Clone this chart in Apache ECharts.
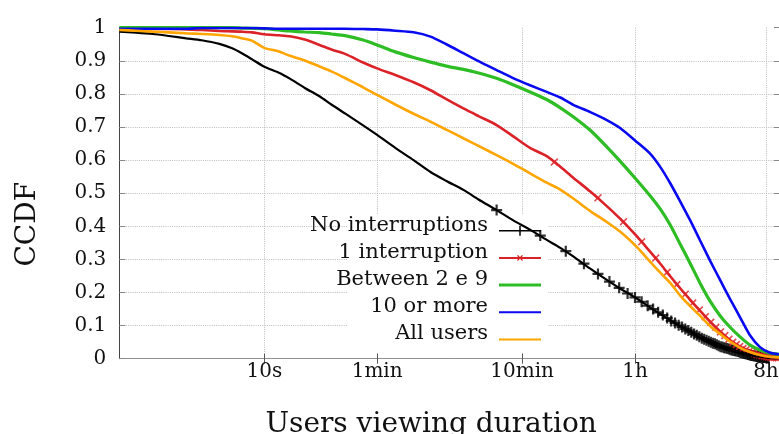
<!DOCTYPE html>
<html>
<head>
<meta charset="utf-8">
<script src="https://cdn.jsdelivr.net/npm/echarts@6/dist/echarts.min.js"></script>
<style>html,body{margin:0;padding:0;background:#fff}#c{width:779px;height:434px}</style>
</head>
<body>
<div id="c"></div>
<script>
// ---------- data (seconds on x, CCDF on y) ----------
const seriesNames = ['No interruptions', '1 interruption', 'Between 2 e 9', '10 or more', 'All users'];
const xTickValues = [10, 60, 600, 3600, 28800];
const xTickLabels = ['10s', '1min', '10min', '1h', '8h'];
const timeGrid = [1, 1.3, 1.7, 2.2, 2.9, 3.7, 4.9, 6, 7, 8.2, 10, 12.6, 15, 19, 24, 29, 36, 48, 60, 80, 107, 140, 180, 236, 300, 400, 524, 680, 886, 1100, 1350, 1770, 2300, 2840, 3700, 4560, 5400, 6300, 7400, 8600, 10100, 11900, 13900, 16300, 19100, 22400, 26200, 30700, 36000];
const noInterruptions = [0.988, 0.985, 0.981, 0.975, 0.968, 0.962, 0.951, 0.938, 0.923, 0.905, 0.882, 0.864, 0.846, 0.818, 0.793, 0.768, 0.741, 0.705, 0.676, 0.637, 0.600, 0.564, 0.537, 0.510, 0.481, 0.449, 0.417, 0.390, 0.359, 0.335, 0.309, 0.272, 0.238, 0.212, 0.182, 0.155, 0.135, 0.116, 0.098, 0.083, 0.064, 0.050, 0.036, 0.027, 0.019, 0.011, 0.006, 0.002, 0.001];
const oneInterruption = [0.997, 0.997, 0.996, 0.996, 0.995, 0.993, 0.990, 0.989, 0.988, 0.986, 0.980, 0.977, 0.974, 0.964, 0.948, 0.934, 0.921, 0.895, 0.877, 0.857, 0.835, 0.811, 0.784, 0.756, 0.733, 0.706, 0.671, 0.637, 0.612, 0.580, 0.547, 0.505, 0.461, 0.423, 0.370, 0.324, 0.286, 0.249, 0.212, 0.179, 0.145, 0.111, 0.082, 0.056, 0.036, 0.021, 0.011, 0.005, 0.003];
const betweenTwoAndNine = [1.0, 1.0, 1.0, 1.0, 1.0, 1.0, 1.0, 1.0, 0.999, 0.998, 0.997, 0.993, 0.990, 0.987, 0.985, 0.981, 0.976, 0.963, 0.948, 0.927, 0.910, 0.896, 0.884, 0.874, 0.863, 0.847, 0.827, 0.806, 0.783, 0.758, 0.731, 0.690, 0.640, 0.597, 0.540, 0.493, 0.451, 0.404, 0.345, 0.290, 0.229, 0.173, 0.130, 0.095, 0.066, 0.041, 0.026, 0.017, 0.013];
const tenOrMore = [0.997, 0.997, 0.997, 0.997, 0.997, 0.999, 0.999, 0.999, 0.999, 0.999, 0.998, 0.997, 0.997, 0.997, 0.997, 0.997, 0.997, 0.996, 0.995, 0.991, 0.986, 0.973, 0.950, 0.923, 0.899, 0.872, 0.847, 0.826, 0.806, 0.789, 0.767, 0.745, 0.721, 0.697, 0.655, 0.620, 0.578, 0.530, 0.474, 0.420, 0.358, 0.295, 0.238, 0.180, 0.125, 0.070, 0.035, 0.018, 0.013];
const allUsers = [0.993, 0.991, 0.988, 0.986, 0.983, 0.981, 0.978, 0.974, 0.968, 0.961, 0.939, 0.928, 0.915, 0.901, 0.883, 0.868, 0.848, 0.820, 0.797, 0.768, 0.740, 0.716, 0.692, 0.666, 0.643, 0.615, 0.588, 0.560, 0.532, 0.511, 0.484, 0.446, 0.413, 0.384, 0.338, 0.294, 0.259, 0.229, 0.190, 0.160, 0.130, 0.098, 0.075, 0.052, 0.033, 0.020, 0.011, 0.006, 0.004];
// point markers drawn on two of the curves
const noIntMarkT = [400, 800, 1200, 1600, 2000, 2400, 2800, 3200, 3600, 4000, 4400, 4800, 5200, 5600, 6000, 6400, 6800, 7200, 7600, 8000, 8400, 8800, 9200, 9600, 10000, 10400, 10800, 11200, 11600, 12000, 12400, 12800, 13200, 13600, 14000, 14400, 14800, 15200, 15600, 16000, 16400, 16800, 17200, 17600, 18000, 18400, 18800, 19200, 19600, 20000, 20400, 20800, 21200, 21600, 22000, 22400, 22800, 23200, 23600, 24000, 24400, 24800, 25200, 25600, 26000, 26400, 26800, 27200, 27600, 28000, 28400, 28800, 29200, 29600, 30000];
const noIntMarkV = [0.449, 0.372, 0.325, 0.287, 0.256, 0.233, 0.214, 0.197, 0.185, 0.172, 0.160, 0.150, 0.140, 0.132, 0.123, 0.114, 0.108, 0.101, 0.096, 0.090, 0.085, 0.080, 0.075, 0.071, 0.066, 0.062, 0.059, 0.056, 0.053, 0.050, 0.047, 0.045, 0.042, 0.039, 0.036, 0.035, 0.033, 0.032, 0.031, 0.029, 0.027, 0.026, 0.025, 0.024, 0.023, 0.022, 0.021, 0.019, 0.018, 0.017, 0.016, 0.015, 0.014, 0.013, 0.012, 0.011, 0.010, 0.010, 0.009, 0.008, 0.008, 0.007, 0.007, 0.006, 0.006, 0.006, 0.005, 0.005, 0.004, 0.004, 0.004, 0.003, 0.003, 0.003, 0.002];
const oneIntMarkT = [1000, 2000, 3000, 4000, 5000, 6000, 7000, 8000, 9000, 10000, 11000, 12000, 13000, 14000, 15000, 16000, 17000, 18000, 19000, 20000, 21000, 22000, 23000, 24000, 25000, 26000, 27000, 28000, 29000, 30000, 31000, 32000, 33000, 34000, 35000];
const oneIntMarkV = [0.594, 0.486, 0.414, 0.353, 0.304, 0.261, 0.224, 0.195, 0.168, 0.147, 0.127, 0.110, 0.095, 0.081, 0.070, 0.059, 0.050, 0.043, 0.037, 0.031, 0.027, 0.022, 0.019, 0.016, 0.013, 0.011, 0.009, 0.008, 0.006, 0.005, 0.0045, 0.004, 0.0035, 0.003, 0.003];

// ---------- styling ----------
const FONT = 'DejaVu Serif';
const TXT = '#111';
const colors = ['#000000', '#dc2229', '#2ebd25', '#0a0af0', '#ffa500'];
const lineWidths = [2.2, 2.6, 3.2, 2.6, 2.6];
const plusPath = 'path://M4,0H6V4H10V6H6V10H4V6H0V4H4Z';
const crossPath = 'path://M0,1.5L1.5,0L5,3.5L8.5,0L10,1.5L6.5,5L10,8.5L8.5,10L5,6.5L1.5,10L0,8.5L3.5,5Z';
// legend samples: 42x22 box (tiny corner specks fix the box), sample line sits below text middle
const iconBox = 'M0,0H0.01V0.01H0Z M41.99,21.99H42V22H41.99Z ';
const legendIcons = [
  'path://' + iconBox + 'M0,15.75H42V17.25H0Z M20.25,11.5H21.75V21.5H20.25Z',
  'path://' + iconBox + 'M0,15.5H42V17.5H0Z M18,14.4L18.9,13.5L21,15.6L23.1,13.5L24,14.4L21.9,16.5L24,18.6L23.1,19.5L21,17.4L18.9,19.5L18,18.6L20.1,16.5Z',
  'path://' + iconBox + 'M0,15H42V18H0Z',
  'path://' + iconBox + 'M0,15.5H42V17.5H0Z',
  'path://' + iconBox + 'M0,15.5H42V17.5H0Z'
];

const pairs = (ts, vs) => ts.map((t, i) => [t, vs[i]]);
const curves = [noInterruptions, oneInterruption, betweenTwoAndNine, tenOrMore, allUsers];

function xLabel(v) {
  let best = -1, d = Infinity;
  xTickValues.forEach((x, i) => { const e = Math.abs(Math.log(v / x)); if (e < d) { d = e; best = i; } });
  return d < 0.02 ? xTickLabels[best] : '';
}

const series = [];
curves.forEach((vals, i) => {
  series.push({
    name: seriesNames[i], type: 'line', data: pairs(timeGrid, vals),
    showSymbol: false, symbol: 'none', smooth: 0.25,
    color: colors[i],
    lineStyle: { color: colors[i], width: lineWidths[i] },
    itemStyle: { color: colors[i] },
    emphasis: { disabled: true }, silent: true
  });
  if (i === 0) {
    series.push({ name: 'marks0', type: 'scatter', data: pairs(noIntMarkT, noIntMarkV), symbol: plusPath, symbolSize: 11,
      itemStyle: { color: colors[0] }, silent: true, emphasis: { disabled: true } });
  }
  if (i === 1) {
    series.push({ name: 'marks1', type: 'scatter', data: pairs(oneIntMarkT, oneIntMarkV), symbol: crossPath, symbolSize: 8,
      itemStyle: { color: colors[1] }, silent: true, emphasis: { disabled: true } });
  }
});

const gridLineStyle = { color: '#bdbdbd', width: 1, type: [1, 1.2] };

const chart = echarts.init(document.getElementById('c'), null, { renderer: 'canvas', width: 779, height: 434 });
chart.setOption({
  animation: false,
  backgroundColor: '#fff',
  grid: { left: 119.3, top: 27.7, width: 660.7, height: 331, containLabel: false, outerBoundsMode: 'none' },
  xAxis: [{
    type: 'log', logBase: 10, min: 1, max: 36000,
    name: 'Users viewing duration', nameLocation: 'middle', nameGap: 52,
    nameTextStyle: { fontFamily: FONT, fontSize: 28, color: TXT, padding: [0, 37, 0, 0] },
    axisLine: { show: true, lineStyle: { color: '#808080', width: 1 } },
    axisTick: { show: true, inside: true, length: 5, customValues: xTickValues, lineStyle: { color: '#555' } },
    axisLabel: { show: true, customValues: xTickValues, formatter: xLabel, fontFamily: FONT, fontSize: 20, color: TXT, margin: 3 },
    splitLine: { show: true, lineStyle: gridLineStyle },
    minorTick: { show: false }, minorSplitLine: { show: false }
  }, {
    type: 'log', logBase: 10, min: 1, max: 36000, position: 'top',
    axisLine: { show: true, lineStyle: { color: '#909090', width: 1 } },
    axisTick: { show: true, inside: true, length: 5, customValues: xTickValues, lineStyle: { color: '#555' } },
    axisLabel: { show: false }, splitLine: { show: false }
  }],
  yAxis: [{
    type: 'value', min: 0, max: 1, interval: 0.1,
    name: 'CCDF', nameLocation: 'middle', nameGap: 78, nameRotate: 90,
    nameTextStyle: { fontFamily: FONT, fontSize: 28, color: TXT, padding: [0, 62, 0, 0] },
    axisLine: { show: true, lineStyle: { color: '#444', width: 1 } },
    axisTick: { show: true, inside: true, length: 6, lineStyle: { color: '#888' } },
    axisLabel: { fontFamily: FONT, fontSize: 20, color: TXT, margin: 13 },
    splitLine: { show: true, showMinLine: false, showMaxLine: false, lineStyle: gridLineStyle }
  }, {
    type: 'value', min: 0, max: 1, interval: 0.1, position: 'right',
    axisLine: { show: false },
    axisTick: { show: true, inside: true, length: 6, lineStyle: { color: '#888' } },
    axisLabel: { show: false }, splitLine: { show: false }
  }],
  legend: {
    orient: 'vertical', align: 'right', right: 238, top: 214.2, padding: 0,
    itemGap: 5.2, itemWidth: 42, itemHeight: 22, selectedMode: false,
    itemStyle: { borderWidth: 0 },
    textStyle: { fontFamily: FONT, fontSize: 21, color: TXT, padding: [0, 6, 0, 0] },
    data: seriesNames.map((n, i) => ({ name: n, icon: legendIcons[i] }))
  },
  graphic: [{
    type: 'rect', left: 348, top: 215, z: 1, silent: true,
    shape: { width: 200, height: 137 }, style: { fill: '#fff' }
  }],
  series: series
});
</script>
</body>
</html>
